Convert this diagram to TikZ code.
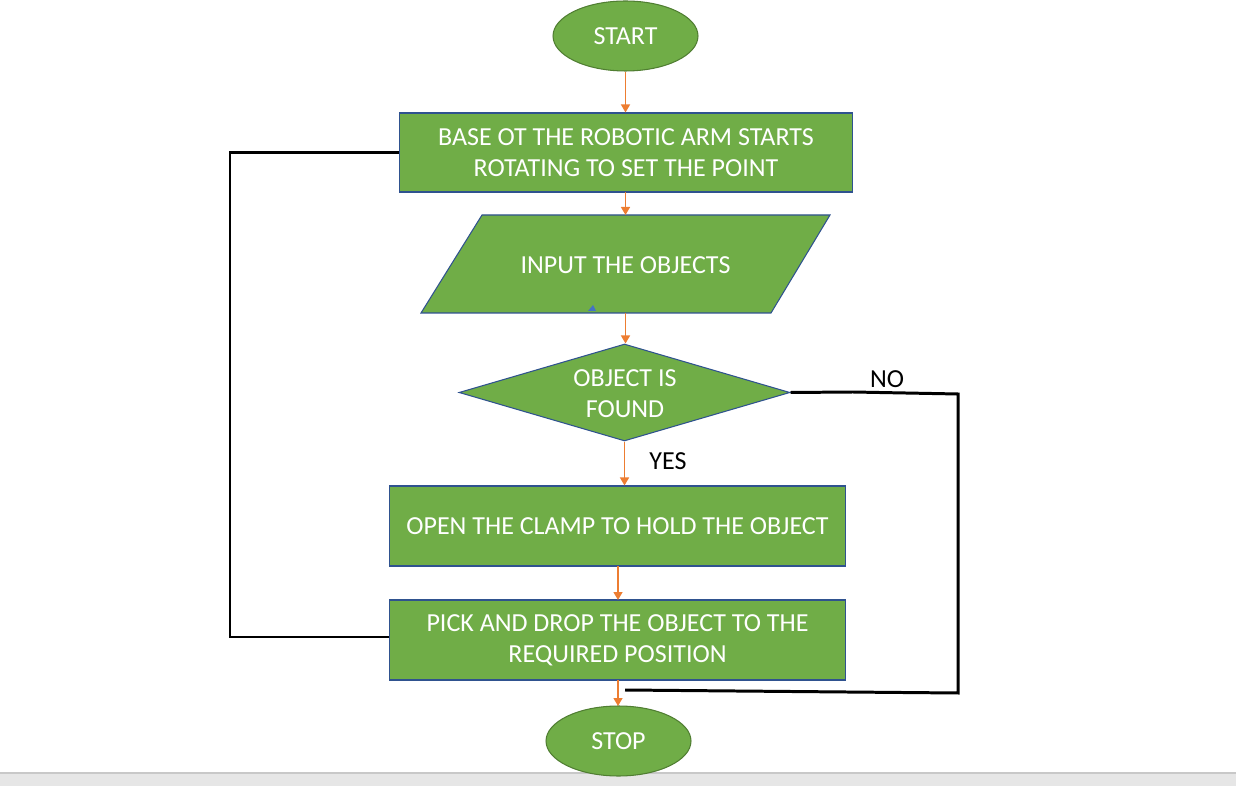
\documentclass[tikz,border=0pt]{standalone}
\usepackage{fontspec}
\setmainfont{Carlito}
\usetikzlibrary{shapes.geometric,arrows.meta}
\definecolor{fgreen}{HTML}{70AD47}
\definecolor{eborder}{HTML}{507E32}
\definecolor{bborder}{HTML}{2F528F}
\definecolor{aorange}{HTML}{ED7D31}
\definecolor{barfill}{HTML}{E6E6E6}
\definecolor{barline}{HTML}{C8C8C8}
\definecolor{tinyblue}{HTML}{4472C4}
\begin{document}
\begin{tikzpicture}[x=0.02cm,y=-0.02cm,
  txt/.style={font=\fontsize{14.8}{17.6}\selectfont, align=center},
  box/.style={rectangle, draw=bborder, fill=fgreen, text=white, txt, inner sep=0pt, line width=0.6pt},
  term/.style={ellipse, draw=eborder, fill=fgreen, text=white, txt, inner sep=0pt, line width=0.6pt, minimum width=2.9cm, minimum height=1.4cm},
  arr/.style={draw=aorange, line width=0.8pt, -{Triangle[length=0.16cm,width=0.18cm]}},
  loopline/.style={draw=black, line width=1.7pt},
  lbl/.style={txt, text=black}]
\useasboundingbox (0,0) rectangle (1236,786);
% bottom bar
\fill[barfill] (0,773) rectangle (1236,786);
\draw[barline, line width=0.8pt] (0,773) -- (1236,773);
% nodes
\node[term] (start) at (625.5,36) {START};
\node[box, minimum width=9.08cm, minimum height=1.58cm] (base) at (626,152.5) {BASE OT THE ROBOTIC ARM STARTS\\ROTATING TO SET THE POINT};
\draw[draw=bborder, fill=fgreen, line width=0.6pt] (482,215) -- (830,215) -- (771,313) -- (421,313) -- cycle;
\node[txt, text=white] (inp) at (625.5,265) {INPUT THE OBJECTS};
\coordinate (inpT) at (625.5,215);
\coordinate (inpB) at (625.5,313);
\fill[tinyblue] (588,311) -- (596,311) -- (593,305) -- cycle;
\node[diamond, draw=bborder, fill=fgreen, inner sep=0pt, line width=0.6pt, minimum width=6.62cm, minimum height=1.94cm] (found) at (624.5,392.5) {};
\node[txt, text=white] (foundtxt) at (625,394) {OBJECT IS\\FOUND};
\node[box, minimum width=9.14cm, minimum height=1.6cm] (open) at (617.5,526) {OPEN THE CLAMP TO HOLD THE OBJECT};
\node[box, minimum width=9.14cm, minimum height=1.6cm] (pick) at (617.5,640) {PICK AND DROP THE OBJECT TO THE\\REQUIRED POSITION};
\node[term] (stop) at (618.5,741) {STOP};
% labels
\node[lbl] (yes) at (668,461) {YES};
\node[lbl] (no) at (887,379) {NO};
% arrows
\draw[arr] (start.south) -- (start.south |- base.north);
\draw[arr] (625.5,192) -- (inpT);
\draw[arr] (inpB) -- (inpB |- found.north);
\draw[arr] (found.south) -- (found.south |- open.north);
\draw[arr] (618,566) -- (618,600);
\draw[arr] (618,680) -- (618,706);
% loops
\coordinate (lcornerT) at (230,152.5);
\coordinate (lcornerB) at (230,637);
\draw[loopline] (base.west) -- (lcornerT) -- (lcornerB) -- (pick.west |- lcornerB);
\coordinate (rcornerT) at (958,394);
\coordinate (rcornerB) at (958,693);
\coordinate (rend) at (625,690);
\draw[loopline] (found.east) -- (853,392) -- (rcornerT) -- (rcornerB) -- (rend);
\end{tikzpicture}
\end{document}
